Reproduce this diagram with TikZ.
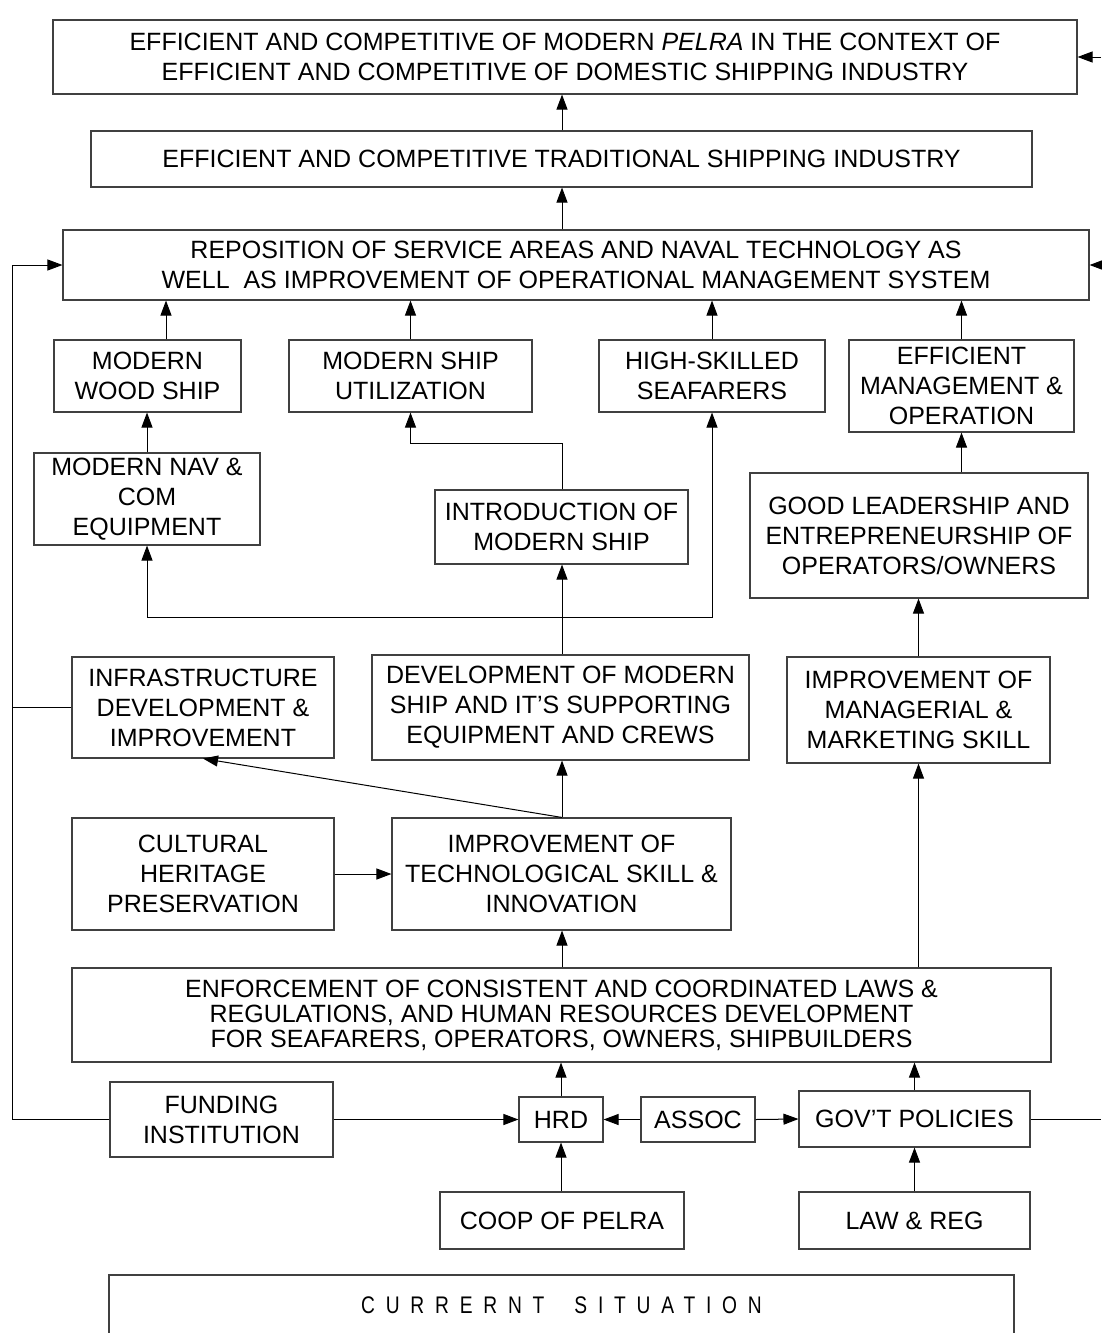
\documentclass[tikz,border=0pt]{standalone}
\usepackage{fontspec}
\setmainfont{Liberation Sans}
\newfontfamily\trackedfont{Liberation Sans}[LetterSpace=45,FakeStretch=0.8]
\usetikzlibrary{arrows.meta,calc}
\tikzset{
  box/.style={draw=black!75, line width=1.1pt, inner sep=0pt, align=center,
    font=\fontsize{25}{30}\selectfont},
  arr/.style={line width=1pt, -{Triangle[length=15pt,width=11pt]}},
  link/.style={line width=1pt},
}
% box from corner (x1,y1) to corner (x2,y2), y measured downwards
\newcommand\placebox[7][]{%
  \node[box,#1, minimum width={(#5-#3)*1pt}, minimum height={(#6-#4)*1pt}]
    (#2) at ({(#3+#5)/2},{(#4+#6)/2}) {#7};}
\begin{document}
\begin{tikzpicture}[x=1pt,y=-1pt]
\useasboundingbox (0,0) rectangle (1101,1333);

% ---------- boxes ----------
\placebox{top}{53}{20}{1077}{94}{EFFICIENT AND COMPETITIVE OF MODERN \textit{PELRA} IN THE CONTEXT OF\\EFFICIENT AND COMPETITIVE OF DOMESTIC SHIPPING INDUSTRY}
\placebox{trad}{91}{131}{1032}{187}{EFFICIENT AND COMPETITIVE TRADITIONAL SHIPPING INDUSTRY}
\placebox{repo}{63}{230}{1089}{300}{REPOSITION OF SERVICE AREAS AND NAVAL TECHNOLOGY AS\\WELL\ \ AS IMPROVEMENT OF OPERATIONAL MANAGEMENT SYSTEM}
\placebox{wood}{54}{340}{241}{412}{MODERN\\WOOD SHIP}
\placebox{util}{289}{340}{532}{412}{MODERN SHIP\\UTILIZATION}
\placebox{high}{599}{340}{825}{412}{HIGH-SKILLED\\SEAFARERS}
\placebox{eff}{849}{340}{1074}{432}{EFFICIENT\\MANAGEMENT \&\\OPERATION}
\placebox{nav}{34}{453}{260}{545}{MODERN NAV \&\\COM\\EQUIPMENT}
\placebox{intro}{435}{490}{688}{564}{INTRODUCTION OF\\MODERN SHIP}
\placebox{lead}{750}{473}{1088}{598}{GOOD LEADERSHIP AND\\ENTREPRENEURSHIP OF\\OPERATORS/OWNERS}
\placebox{infra}{72}{657}{334}{758}{INFRASTRUCTURE\\DEVELOPMENT \&\\IMPROVEMENT}
\placebox{dev}{372}{655}{749}{760}{DEVELOPMENT OF MODERN\\SHIP AND IT’S SUPPORTING\\EQUIPMENT AND CREWS}
\placebox{mgmt}{787}{657}{1050}{763}{IMPROVEMENT OF\\MANAGERIAL \&\\MARKETING SKILL}
\placebox{cult}{72}{818}{334}{930}{CULTURAL\\HERITAGE\\PRESERVATION}
\placebox{tech}{392}{818}{731}{930}{IMPROVEMENT OF\\TECHNOLOGICAL SKILL \&\\INNOVATION}
\placebox[font=\fontsize{25}{25}\selectfont]{enf}{72}{968}{1051}{1062}{ENFORCEMENT OF CONSISTENT AND COORDINATED LAWS \&\\REGULATIONS, AND HUMAN RESOURCES DEVELOPMENT\\FOR SEAFARERS, OPERATORS, OWNERS, SHIPBUILDERS}
\placebox{fund}{110}{1082}{333}{1157}{FUNDING\\INSTITUTION}
\placebox{hrd}{519}{1097}{603}{1142}{HRD}
\placebox{assoc}{641}{1097}{755}{1142}{ASSOC}
\placebox{gov}{799}{1091}{1030}{1147}{GOV’T POLICIES}
\placebox{coop}{440}{1192}{684}{1249}{COOP OF PELRA}
\placebox{law}{799}{1192}{1030}{1249}{LAW \& REG}
\placebox[font=\fontsize{24}{25}\trackedfont]{cur}{109}{1275}{1014}{1336}{CURRERNT\hspace{30pt}SITUATION}

% ---------- helper coordinates ----------
\coordinate (spine) at (562,0);
\coordinate (lft) at (12,0);
\coordinate (rtop) at (1101,57);
\coordinate (rrep) at (1101,265);
\coordinate (redge) at (1101,0);
\coordinate (bendA) at (0,443);
\coordinate (jn) at (562,617);

% ---------- connectors ----------
\draw[arr] (rtop) -- (top.east);
\draw[arr] (trad.north -| spine) -- (top.south -| spine);
\draw[arr] (repo.north -| spine) -- (trad.south -| spine);
\draw[arr] (rrep) -- (repo.east);

\draw[arr] (fund.west) -- (fund.west -| lft) -- (lft |- repo.west) -- (repo.west);
\draw[link] (infra.west) -- (infra.west -| lft);

\draw[arr] ([xshift=18.5pt]wood.north) -- ([xshift=18.5pt]wood.north |- repo.south);
\draw[arr] (util.north) -- (util.north |- repo.south);
\draw[arr] (high.north) -- (high.north |- repo.south);
\draw[arr] (eff.north) -- (eff.north |- repo.south);

\draw[arr] (nav.north) -- (nav.north |- wood.south);
\draw[arr] (intro.north -| spine) -- (spine |- bendA) -| (util.south);
\draw[arr] (lead.north -| eff.south) -- (eff.south);

\draw[arr] (dev.north -| spine) -- (intro.south -| spine);
\draw[arr] (jn) -| (nav.south);
\draw[arr] (jn) -| (high.south);
\draw[arr] (mgmt.north) -- (mgmt.north |- lead.south);

\draw[arr] (tech.north -| spine) -- (dev.south -| spine);
\draw[arr] (tech.north -| spine) -- (infra.south);
\draw[arr] (cult.east) -- (tech.west);

\draw[arr] (enf.north -| spine) -- (tech.south -| spine);
\draw[arr] (enf.north -| mgmt.south) -- (mgmt.south);

\draw[arr] (fund.east) -- (hrd.west);
\draw[arr] (assoc.west) -- (hrd.east);
\draw[arr] (assoc.east) -- (gov.west);
\draw[arr] (hrd.north) -- (hrd.north |- enf.south);
\draw[arr] (gov.north) -- (gov.north |- enf.south);
\draw[link] (gov.east) -- (gov.east -| redge);
\draw[arr] (coop.north -| hrd.south) -- (hrd.south);
\draw[arr] (law.north) -- (gov.south);
\end{tikzpicture}
\end{document}
